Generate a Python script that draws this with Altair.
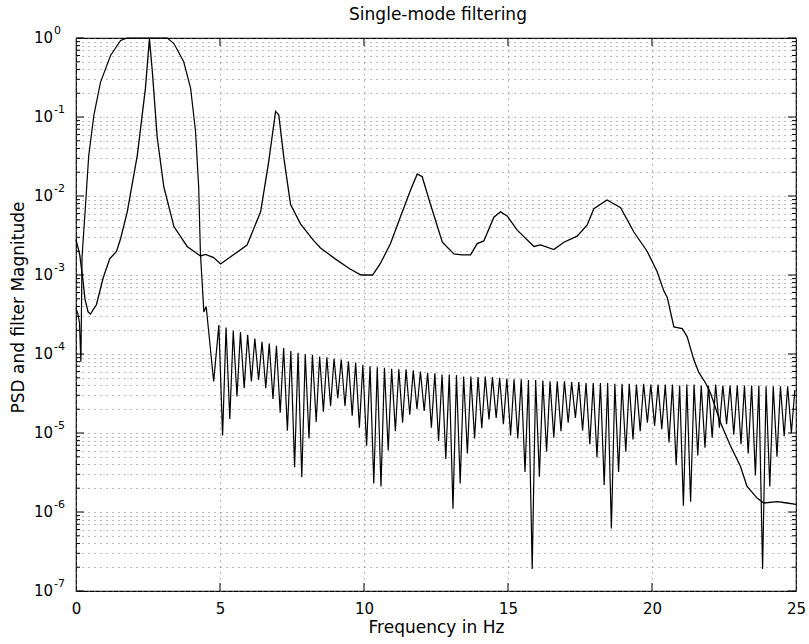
import altair as alt
import pandas as pd

# ---------------- data ----------------
# PSD curve
psd_f = [0.0, 0.13, 0.25, 0.31, 0.42, 0.5, 0.71, 0.94, 1.17, 1.41,
         1.55, 1.78, 2.13, 2.41, 2.55, 2.65, 2.82, 3.05, 3.4, 3.86,
         4.32, 4.5, 4.78, 5.02, 5.37, 5.94, 6.41, 6.69, 6.93, 7.04,
         7.22, 7.45, 7.8, 8.26, 8.49, 9.0, 9.5, 9.9, 10.3, 10.57,
         10.92, 11.27, 11.62, 11.85, 12.02, 12.31, 12.72, 13.12, 13.4, 13.7,
         13.93, 14.16, 14.51, 14.74, 14.97, 15.32, 15.9, 16.13, 16.59, 16.94,
         17.4, 17.75, 17.98, 18.44, 18.91, 19.37, 19.83, 20.18, 20.41, 20.53,
         20.76, 21.05, 21.22, 21.45, 21.63, 21.86, 22.03, 22.38, 22.73, 23.07,
         23.3, 23.65, 23.88, 24.35, 24.69, 25.0]
psd_v = [2.8e-3, 1.8e-3, 8.1e-4, 5.0e-4, 3.4e-4, 3.2e-4, 4.2e-4, 9.1e-4, 1.6e-3, 2.0e-3,
         2.9e-3, 6.3e-3, 3.3e-2, 0.23, 0.98, 0.38, 5.5e-2, 1.3e-2, 4.1e-3, 2.3e-3,
         1.74e-3, 1.82e-3, 1.66e-3, 1.38e-3, 1.7e-3, 2.4e-3, 6.3e-3, 2.7e-2, 0.118, 0.107,
         3.0e-2, 7.8e-3, 4.4e-3, 2.7e-3, 2.2e-3, 1.6e-3, 1.2e-3, 1.0e-3, 1.0e-3, 1.4e-3,
         2.5e-3, 5.5e-3, 1.2e-2, 1.9e-2, 1.75e-2, 7.8e-3, 2.6e-3, 1.85e-3, 1.8e-3, 1.8e-3,
         2.5e-3, 2.7e-3, 5.4e-3, 6.3e-3, 5.6e-3, 3.7e-3, 2.3e-3, 2.4e-3, 2.1e-3, 2.6e-3,
         3.1e-3, 4.3e-3, 6.9e-3, 8.9e-3, 7.1e-3, 3.5e-3, 2.0e-3, 1.1e-3, 6.3e-4, 5.2e-4,
         2.2e-4, 2.1e-4, 1.66e-4, 8.5e-5, 5.8e-5, 4.3e-5, 3.2e-5, 1.35e-5, 6.8e-6, 3.8e-6,
         2.1e-6, 1.5e-6, 1.3e-6, 1.35e-6, 1.3e-6, 1.25e-6]

# Filter: pass band / main lobe
filt_main_f = [0.0, 0.06, 0.12, 0.17, 0.21, 0.33, 0.44, 0.62, 0.85, 1.2, 1.55,
               1.78, 3.17, 3.4, 3.74, 3.98, 4.15, 4.26, 4.32, 4.44, 4.52, 4.78]
filt_main_v = [3.8e-4, 3.3e-4, 2.5e-4, 8e-5, 1.7e-3, 7.6e-3, 3.2e-2, 0.105, 0.275, 0.6, 0.93,
               1.0, 1.0, 0.85, 0.5, 0.23, 0.066, 0.013, 1.9e-3, 3.4e-4, 4.0e-4, 4.5e-5]

# Filter: side-lobe maxima
lobe_peak_f = [4.96, 5.21, 5.46, 5.71, 5.96, 6.21, 6.46, 6.71, 6.96, 7.21,
               7.46, 7.71, 7.96, 8.21, 8.46, 8.71, 8.96, 9.21, 9.46, 9.71,
               9.96, 10.21, 10.46, 10.71, 10.96, 11.21, 11.46, 11.71, 11.96, 12.21,
               12.46, 12.71, 12.96, 13.21, 13.46, 13.71, 13.96, 14.21, 14.46, 14.71,
               14.96, 15.21, 15.46, 15.71, 15.96, 16.21, 16.46, 16.71, 16.96, 17.21,
               17.46, 17.71, 17.96, 18.21, 18.46, 18.71, 18.96, 19.21, 19.46, 19.71,
               19.96, 20.21, 20.46, 20.71, 20.96, 21.21, 21.46, 21.71, 21.96, 22.21,
               22.46, 22.71, 22.96, 23.21, 23.46, 23.71, 23.96, 24.21, 24.46, 24.71, 24.96]
lobe_peak_v = [2.32e-4, 2.17e-4, 1.97e-4, 1.89e-4, 1.75e-4, 1.57e-4, 1.43e-4, 1.36e-4, 1.27e-4, 1.19e-4,
               1.09e-4, 1.04e-4, 9.9e-5, 9.8e-5, 9.3e-5, 9.1e-5, 8.7e-5, 8.5e-5, 8.1e-5, 7.8e-5,
               7.3e-5, 7.0e-5, 6.8e-5, 6.7e-5, 6.5e-5, 6.4e-5, 6.4e-5, 6.2e-5, 6.0e-5, 5.8e-5,
               5.7e-5, 5.5e-5, 5.5e-5, 5.4e-5, 5.2e-5, 5.2e-5, 5.1e-5, 5.2e-5, 5.1e-5, 5.0e-5,
               4.9e-5, 4.8e-5, 4.8e-5, 4.7e-5, 4.7e-5, 4.6e-5, 4.5e-5, 4.5e-5, 4.5e-5, 4.4e-5,
               4.4e-5, 4.3e-5, 4.3e-5, 4.3e-5, 4.3e-5, 4.2e-5, 4.2e-5, 4.2e-5, 4.1e-5, 4.2e-5,
               4.1e-5, 4.1e-5, 4.1e-5, 4.1e-5, 4.0e-5, 4.1e-5, 4.1e-5, 4.0e-5, 4.0e-5, 4.1e-5,
               4.0e-5, 4.0e-5, 4.0e-5, 4.0e-5, 4.0e-5, 4.0e-5, 3.9e-5, 3.9e-5, 3.9e-5, 3.9e-5, 3.5e-5]

# Filter: side-lobe nulls
lobe_null_f = [5.09, 5.34, 5.59, 5.84, 6.09, 6.34, 6.59, 6.84, 7.09, 7.34,
               7.59, 7.84, 8.09, 8.34, 8.59, 8.84, 9.09, 9.34, 9.59, 9.84,
               10.09, 10.34, 10.59, 10.84, 11.09, 11.34, 11.59, 11.84, 12.09, 12.34,
               12.59, 12.84, 13.09, 13.34, 13.59, 13.84, 14.09, 14.34, 14.59, 14.84,
               15.09, 15.34, 15.59, 15.84, 16.09, 16.34, 16.59, 16.84, 17.09, 17.34,
               17.59, 17.84, 18.09, 18.34, 18.59, 18.84, 19.09, 19.34, 19.59, 19.84,
               20.09, 20.34, 20.59, 20.84, 21.09, 21.34, 21.59, 21.84, 22.09, 22.34,
               22.59, 22.84, 23.09, 23.34, 23.59, 23.84, 24.09, 24.34, 24.59, 24.84]
lobe_null_v = [9.3e-6, 1.5e-5, 2.9e-5, 3.7e-5, 4.5e-5, 4.7e-5, 3.7e-5, 2.7e-5, 1.8e-5, 1.07e-5,
               3.7e-6, 2.75e-6, 8.5e-6, 1.38e-5, 1.86e-5, 2.2e-5, 2.75e-5, 2.2e-5, 1.66e-5, 1.17e-5,
               6.9e-6, 2.3e-6, 2.1e-6, 6.0e-6, 1.05e-5, 1.35e-5, 1.7e-5, 2.0e-5, 1.9e-5, 1.17e-5,
               7.9e-6, 4.7e-6, 1.1e-6, 2.3e-6, 5.5e-6, 8.5e-6, 1.15e-5, 1.48e-5, 1.55e-5, 1.29e-5,
               9.3e-6, 8.5e-6, 3.2e-6, 1.9e-7, 2.8e-6, 5.8e-6, 8.7e-6, 1.05e-5, 1.35e-5, 1.55e-5,
               1.07e-5, 7.2e-6, 4.9e-6, 2.2e-6, 6.2e-7, 3.2e-6, 5.8e-6, 8.3e-6, 1.05e-5, 1.35e-5,
               1.23e-5, 1.12e-5, 7.6e-6, 3.9e-6, 1.2e-6, 1.35e-6, 5.2e-6, 6.5e-6, 8.7e-6, 1.17e-5,
               1.29e-5, 9.5e-6, 7.2e-6, 5.5e-6, 2.9e-6, 1.9e-7, 2.1e-6, 5.0e-6, 9.1e-6, 1.0e-5]

# axis ticks / labels
x_tick_values = [0, 5, 10, 15, 20, 25]
x_inner_ticks = [5, 10, 15, 20]
decades = [1e-7, 1e-6, 1e-5, 1e-4, 1e-3, 1e-2, 1e-1, 1e0]
decade_exps = ["-7", "-6", "-5", "-4", "-3", "-2", "-1", "0"]
minor_mult = [2, 3, 4, 5, 6, 7, 8, 9]

TITLE = "Single-mode filtering"
XTITLE = "Frequency in Hz"
YTITLE = "PSD and filter Magnitude"

# ---------------- build ----------------
minor_ticks = [m * d for d in decades[:-1] for m in minor_mult]

psd_df = pd.DataFrame({"f": psd_f, "v": psd_v})
filt_df = pd.concat([
    pd.DataFrame({"f": filt_main_f, "v": filt_main_v}),
    pd.DataFrame({"f": lobe_peak_f, "v": lobe_peak_v}),
    pd.DataFrame({"f": lobe_null_f, "v": lobe_null_v}),
]).sort_values("f").reset_index(drop=True)
filt_df["o"] = range(len(filt_df))
psd_df["o"] = range(len(psd_df))

dec_df = pd.DataFrame({"v": decades, "e": decade_exps, "t": ["10"] * len(decades)})
minor_df = pd.DataFrame({"v": minor_ticks})
xt_df = pd.DataFrame({"f": x_inner_ticks})
title_df = pd.DataFrame({"t": [TITLE]})

W, H = 720, 553
FONT = "DejaVu Sans"
GRID = "#777777"

xs = alt.Scale(domain=[0, 25], nice=False, zero=False)
ys = alt.Scale(type="log", domain=[1e-7, 1], nice=False)

x_axis = alt.Axis(values=x_tick_values, grid=True, gridDash=[1, 5], gridColor=GRID,
                  gridWidth=1, ticks=False, domain=False, labelFont=FONT,
                  labelFontSize=15, labelColor="black", labelPadding=10,
                  labelFlush=False, format="d", title=XTITLE, titleFont=FONT,
                  titleFontSize=17, titleFontWeight="normal", titleColor="black",
                  titlePadding=3)
y_axis = alt.Axis(values=decades + minor_ticks, grid=True, gridDash=[1, 5],
                  gridColor=GRID, gridWidth=1, labels=False, ticks=False,
                  domain=False, title=YTITLE, titleFont=FONT, titleFontSize=17,
                  titleFontWeight="normal", titleColor="black", titleX=-58,
                  titleY=269, titleAngle=270, titleAlign="center",
                  titleBaseline="middle")


def X():
    return alt.X("f:Q", scale=xs, axis=x_axis)


def Y():
    return alt.Y("v:Q", scale=ys, axis=y_axis)


psd_line = alt.Chart(psd_df).mark_line(color="black", strokeWidth=1.3).encode(
    x=X(), y=Y(), order="o:Q")
filt_line = alt.Chart(filt_df).mark_line(color="black", strokeWidth=1.2).encode(
    x=X(), y=Y(), order="o:Q")

maj_l = alt.Chart(dec_df).mark_rule(color="black", strokeWidth=1).encode(
    y=Y(), x=alt.value(0), x2=alt.value(8))
maj_r = alt.Chart(dec_df).mark_rule(color="black", strokeWidth=1).encode(
    y=Y(), x=alt.value(W - 8), x2=alt.value(W))
min_l = alt.Chart(minor_df).mark_rule(color="black", strokeWidth=1).encode(
    y=Y(), x=alt.value(0), x2=alt.value(4))
min_r = alt.Chart(minor_df).mark_rule(color="black", strokeWidth=1).encode(
    y=Y(), x=alt.value(W - 4), x2=alt.value(W))
xt_b = alt.Chart(xt_df).mark_rule(color="black", strokeWidth=1).encode(
    x=X(), y=alt.value(H - 8), y2=alt.value(H))
xt_t = alt.Chart(xt_df).mark_rule(color="black", strokeWidth=1).encode(
    x=X(), y=alt.value(0), y2=alt.value(8))

lab10 = alt.Chart(dec_df).mark_text(align="right", baseline="middle", font=FONT,
                                     fontSize=15, color="black").encode(
    y=Y(), x=alt.value(-23), text="t:N")
labexp = alt.Chart(dec_df).mark_text(align="left", baseline="middle", font=FONT,
                                      fontSize=11, color="black", dy=-7).encode(
    y=Y(), x=alt.value(-22), text="e:N")
title_txt = alt.Chart(title_df).mark_text(align="center", baseline="middle",
                                          font=FONT, fontSize=17,
                                          color="black").encode(
    x=alt.value(W / 2 + 2), y=alt.value(-23), text="t:N")

chart = alt.layer(
    min_l, min_r, maj_l, maj_r, xt_b, xt_t, filt_line, psd_line, lab10, labexp,
    title_txt
).properties(
    width=W, height=H,
    padding={"left": 76, "top": 38, "right": 13, "bottom": 53},
    autosize=alt.AutoSizeParams(type="none"),
    background="white",
).configure_view(stroke="black", strokeWidth=1.2)

chart.save("out.html", embed_options={"renderer": "svg", "actions": False})
